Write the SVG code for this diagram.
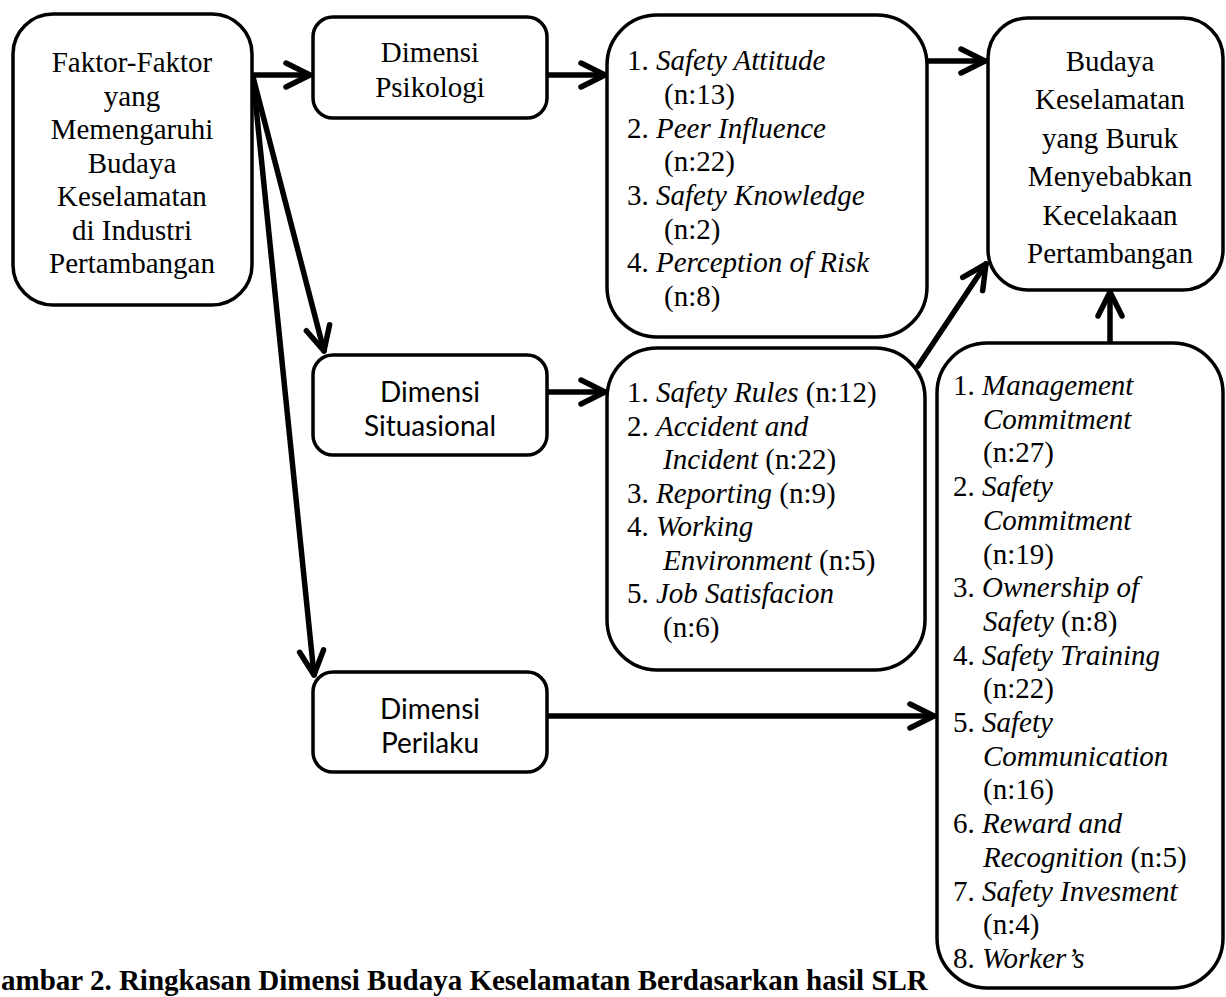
<svg xmlns="http://www.w3.org/2000/svg" width="1226" height="997" viewBox="0 0 1226 997">
<style>
.box{fill:#fff;stroke:#000;stroke-width:3.5}
.conn{fill:none;stroke:#000;stroke-width:5.5;stroke-linecap:round}
.t{font-family:"Liberation Serif","Times New Roman",serif;font-size:29px;fill:#000}
.c{text-anchor:middle}
.s{font-family:Lato,"Liberation Sans",sans-serif;font-size:28px;fill:#000;text-anchor:middle}
.i{font-style:italic}
.cap{font-family:"Liberation Serif","Times New Roman",serif;font-size:29px;font-weight:bold;fill:#000}
</style>
<defs>
<marker id="ah" markerUnits="userSpaceOnUse" markerWidth="60" markerHeight="60" refX="0" refY="0" orient="auto" overflow="visible">
<path d="M-24,-12 L0,0 L-24,12" fill="none" stroke="#000" stroke-width="5.5" stroke-linecap="round" stroke-linejoin="round"/>
</marker>
</defs>
<rect width="1226" height="997" fill="#fff"/>

<g id="connectors">
<path class="conn" d="M252,75 L310,75" marker-end="url(#ah)"/>
<path class="conn" d="M547,75 L605,75" marker-end="url(#ah)"/>
<path class="conn" d="M927,61 L985,61" marker-end="url(#ah)"/>
<path class="conn" d="M253,77 L324,351" marker-end="url(#ah)"/>
<path class="conn" d="M253,77 L314,675" marker-end="url(#ah)"/>
<path class="conn" d="M547,392 L605,392" marker-end="url(#ah)"/>
<path class="conn" d="M547,716 L934,716" marker-end="url(#ah)"/>
<path class="conn" d="M918,366 L986,264" marker-end="url(#ah)"/>
<path class="conn" d="M1110,343 L1110,292" marker-end="url(#ah)"/>
</g>

<g id="faktor">
<rect class="box" x="13" y="14" width="239" height="291" rx="40"/>
<text class="t c" x="132" y="72">Faktor-Faktor</text>
<text class="t c" x="132" y="105.5">yang</text>
<text class="t c" x="132" y="139">Memengaruhi</text>
<text class="t c" x="132" y="172.5">Budaya</text>
<text class="t c" x="132" y="206">Keselamatan</text>
<text class="t c" x="132" y="239.5">di Industri</text>
<text class="t c" x="132" y="273">Pertambangan</text>
</g>

<g id="psikologi">
<rect class="box" x="313" y="17" width="234" height="101" rx="20"/>
<text class="t c" x="430" y="62">Dimensi</text>
<text class="t c" x="430" y="97">Psikologi</text>
</g>

<g id="situasional">
<rect class="box" x="313" y="355" width="234" height="100" rx="20"/>
<text class="s" x="430" y="402">Dimensi</text>
<text class="s" x="430" y="436">Situasional</text>
</g>

<g id="perilaku">
<rect class="box" x="313" y="672" width="234" height="100" rx="20"/>
<text class="s" x="430" y="719">Dimensi</text>
<text class="s" x="430" y="753">Perilaku</text>
</g>

<g id="list-psikologi">
<rect class="box" x="607" y="15" width="320" height="322" rx="50"/>
<text class="t" x="627" y="70">1. <tspan class="i">Safety Attitude</tspan></text>
<text class="t" x="664" y="104">(n:13)</text>
<text class="t" x="627" y="137.5">2. <tspan class="i">Peer Influence</tspan></text>
<text class="t" x="664" y="171">(n:22)</text>
<text class="t" x="627" y="205">3. <tspan class="i">Safety Knowledge</tspan></text>
<text class="t" x="664" y="238.5">(n:2)</text>
<text class="t" x="627" y="272">4. <tspan class="i">Perception of Risk</tspan></text>
<text class="t" x="664" y="305.5">(n:8)</text>
</g>

<g id="list-situasional">
<rect class="box" x="607" y="348" width="318" height="322" rx="50"/>
<text class="t" x="627" y="402">1. <tspan class="i">Safety Rules</tspan> (n:12)</text>
<text class="t" x="627" y="435.5">2. <tspan class="i">Accident and</tspan></text>
<text class="t" x="663" y="469"><tspan class="i">Incident</tspan> (n:22)</text>
<text class="t" x="627" y="502.5">3. <tspan class="i">Reporting</tspan> (n:9)</text>
<text class="t" x="627" y="536">4. <tspan class="i">Working</tspan></text>
<text class="t" x="663" y="569.5"><tspan class="i">Environment</tspan> (n:5)</text>
<text class="t" x="627" y="603">5. <tspan class="i">Job Satisfacion</tspan></text>
<text class="t" x="663" y="636.5">(n:6)</text>
</g>

<g id="budaya">
<rect class="box" x="988" y="18" width="235" height="272" rx="40"/>
<text class="t c" x="1110" y="70.5">Budaya</text>
<text class="t c" x="1110" y="109">Keselamatan</text>
<text class="t c" x="1110" y="147.5">yang Buruk</text>
<text class="t c" x="1110" y="186">Menyebabkan</text>
<text class="t c" x="1110" y="224.5">Kecelakaan</text>
<text class="t c" x="1110" y="263">Pertambangan</text>
</g>

<g id="list-perilaku">
<rect class="box" x="937" y="343" width="286" height="645" rx="50"/>
<text class="t" x="953" y="395">1. <tspan class="i">Management</tspan></text>
<text class="t i" x="983" y="428.7">Commitment</text>
<text class="t" x="983" y="462.4">(n:27)</text>
<text class="t" x="953" y="496.1">2. <tspan class="i">Safety</tspan></text>
<text class="t i" x="983" y="529.8">Commitment</text>
<text class="t" x="983" y="563.5">(n:19)</text>
<text class="t" x="953" y="597.2">3. <tspan class="i">Ownership of</tspan></text>
<text class="t" x="983" y="630.9"><tspan class="i">Safety</tspan> (n:8)</text>
<text class="t" x="953" y="664.6">4. <tspan class="i">Safety Training</tspan></text>
<text class="t" x="983" y="698.3">(n:22)</text>
<text class="t" x="953" y="732">5. <tspan class="i">Safety</tspan></text>
<text class="t i" x="983" y="765.7">Communication</text>
<text class="t" x="983" y="799.4">(n:16)</text>
<text class="t" x="953" y="833.1">6. <tspan class="i">Reward and</tspan></text>
<text class="t" x="983" y="866.8"><tspan class="i">Recognition</tspan> (n:5)</text>
<text class="t" x="953" y="900.5">7. <tspan class="i">Safety Invesment</tspan></text>
<text class="t" x="983" y="934.2">(n:4)</text>
<text class="t" x="953" y="967.9">8. <tspan class="i">Worker’s</tspan></text>
</g>

<g id="caption">
<text class="cap" x="1" y="990">ambar 2. Ringkasan Dimensi Budaya Keselamatan Berdasarkan hasil SLR</text>
</g>
</svg>
